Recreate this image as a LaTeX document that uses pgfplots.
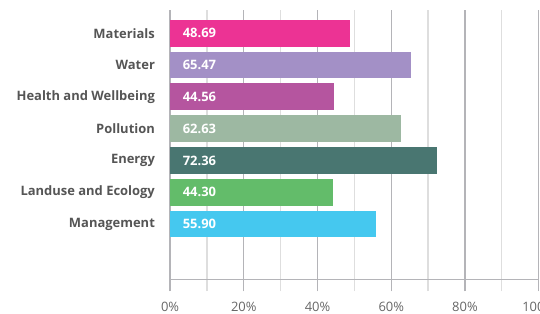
\documentclass[border=0pt]{standalone}
\usepackage{pgfplots}
\pgfplotsset{compat=1.18}
\usepackage{fontspec}
\setmainfont{Open Sans}
\definecolor{cMat}{HTML}{EC3394}
\definecolor{cWat}{HTML}{A390C6}
\definecolor{cHea}{HTML}{B5559F}
\definecolor{cPol}{HTML}{9DB8A2}
\definecolor{cEne}{HTML}{497671}
\definecolor{cLan}{HTML}{63BC6A}
\definecolor{cMan}{HTML}{45C8EF}
\definecolor{labgray}{HTML}{555555}
\definecolor{tickgray}{HTML}{666666}
\definecolor{majg}{HTML}{B4B4B8}
\definecolor{ming}{HTML}{DEDEDE}
\begin{document}
\begin{tikzpicture}
\begin{axis}[
  name=ax,
  scale only axis, width=368.4bp, height=269.3bp,
  xmin=0, xmax=100, ymin=-0.73, ymax=7.74, y dir=reverse,
  xbar, bar width=26.7bp, bar shift=0pt,
  axis x line*=bottom, axis y line*=left,
  axis line style={draw=majg, line width=1.3pt},
  xtick={0,20,...,100}, minor xtick={10,30,...,90},
  xticklabel={\pgfmathprintnumber{\tick}\%},
  /pgf/number format/assume math mode=true,
  xmajorgrids, xminorgrids,
  major grid style={draw=majg, line width=1.3pt},
  minor grid style={draw=ming, line width=1.3pt},
  tick align=outside, major tick length=12bp, minor tick length=12bp,
  x tick style={line width=1.3pt},
  major x tick style={draw=majg},
  minor x tick style={draw=ming},
  ytick={0,...,6},
  yticklabels={Materials,Water,Health and Wellbeing,Pollution,Energy,Landuse and Ecology,Management},
  y tick style={draw=none},
  yticklabel style={font=\bfseries\fontsize{13}{15}\selectfont, text=labgray, anchor=east, inner sep=0pt, xshift=-3bp},
  xticklabel style={font=\fontsize{13}{15}\selectfont, text=tickgray, anchor=center, inner sep=0pt, yshift=-15bp},
  every node near coord/.style={font=\bfseries\fontsize{13}{15}\selectfont, text=white, anchor=west, inner sep=0pt, xshift=12.5bp},
]
\addplot[fill=cMat, draw=none] coordinates {(48.69,0)};
\addplot[fill=cWat, draw=none] coordinates {(65.47,1)};
\addplot[fill=cHea, draw=none] coordinates {(44.56,2)};
\addplot[fill=cPol, draw=none] coordinates {(62.63,3)};
\addplot[fill=cEne, draw=none] coordinates {(72.36,4)};
\addplot[fill=cLan, draw=none] coordinates {(44.30,5)};
\addplot[fill=cMan, draw=none] coordinates {(55.90,6)};
\addplot[draw=none, mark=none, xbar=0pt, forget plot, nodes near coords, point meta=explicit symbolic]
  coordinates {(0,0)[48.69] (0,1)[65.47] (0,2)[44.56] (0,3)[62.63] (0,4)[72.36] (0,5)[44.30] (0,6)[55.90]};
\end{axis}
\pgfresetboundingbox
\path[use as bounding box] ([xshift=-170bp,yshift=-33.7bp]ax.south west) rectangle ([xshift=1.3bp,yshift=10bp]ax.north east);
\end{tikzpicture}
\end{document}
